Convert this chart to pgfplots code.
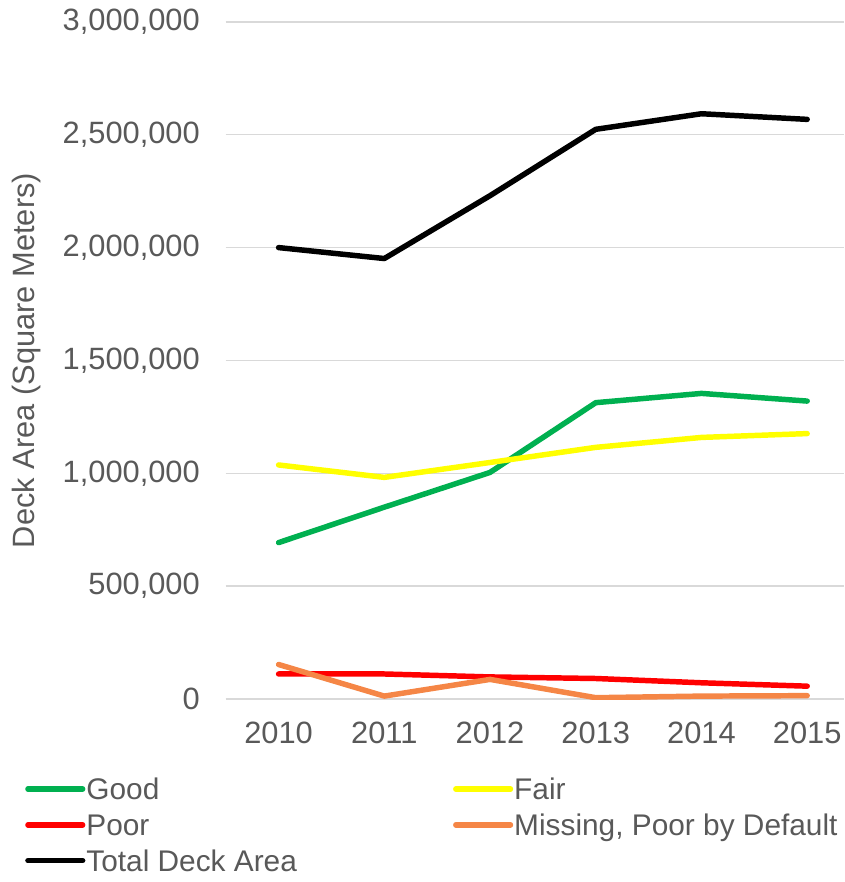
\documentclass[border=0pt]{standalone}
\usepackage{fontspec}
\setmainfont{Liberation Sans}
\usepackage{pgfplots}
\pgfplotsset{compat=1.18}
\usetikzlibrary{calc}
\definecolor{txtgray}{HTML}{595959}
\definecolor{gridgray}{HTML}{D9D9D9}
\definecolor{cgood}{HTML}{00B050}
\definecolor{cfair}{HTML}{FFFF00}
\definecolor{cpoor}{HTML}{FF0000}
\definecolor{cmiss}{HTML}{F58646}
\begin{document}
\begin{tikzpicture}
\begin{axis}[
  name=ax,
  scale only axis,
  width=311pt, height=340.5pt,
  xmin=-0.5, xmax=5.35,
  ymin=0, ymax=3000000,
  xtick={0,1,2,3,4,5},
  xticklabels={2010,2011,2012,2013,2014,2015},
  ytick={0,500000,1000000,1500000,2000000,2500000,3000000},
  scaled y ticks=false,
  /pgf/number format/fixed,
  /pgf/number format/1000 sep={,},
  /pgf/number format/assume math mode=true,
  tick style={draw=none},
  axis line style={draw=none},
  ymajorgrids,
  grid style={gridgray, line width=0.75pt},
  tick label style={font=\fontsize{15.5}{18}\selectfont, text=txtgray},
  yticklabel style={xshift=-9.5pt},
  xticklabel style={yshift=-8pt},
  ylabel={Deck Area (Square Meters)},
  ylabel style={at={(axis description cs:-0.3215,0.5)}, anchor=center, font=\fontsize{15.5}{18}\selectfont, text=txtgray},
  legend columns=2,
  legend cell align=left,
  legend image code/.code={\draw[#1] (0pt,0pt) -- (27.5pt,0pt);},
  legend style={draw=none, fill=none, at={(axis description cs:-0.3248,-0.114)}, anchor=north west,
    inner sep=0pt, row sep=5.5pt,
    font=\fontsize{15}{18}\selectfont, text=txtgray,
    nodes={inner sep=0.5pt, text height=11pt, text depth=0.5pt},
    /tikz/every even column/.append style={column sep=78pt}},
  every axis plot/.append style={line width=2.75pt, line cap=round, line join=round, mark=none},
]
\addplot[cgood] coordinates {(0,693000) (1,850000) (2,1004000) (3,1313000) (4,1354000) (5,1320000)};
\addlegendentry{Good}
\addplot[cfair] coordinates {(0,1037000) (1,982000) (2,1048000) (3,1115000) (4,1159000) (5,1176000)};
\addlegendentry{Fair}
\addplot[cpoor] coordinates {(0,111000) (1,111000) (2,98000) (3,91000) (4,72000) (5,57000)};
\addlegendentry{Poor}
\addplot[cmiss] coordinates {(0,153000) (1,13000) (2,87000) (3,6000) (4,13000) (5,15000)};
\addlegendentry{Missing, Poor by Default}
\addplot[black] coordinates {(0,2000000) (1,1951500) (2,2230000) (3,2524000) (4,2593000) (5,2568000)};
\addlegendentry{Total Deck Area}
\end{axis}
\pgfresetboundingbox
\path ($(ax.south west)+(-113.5pt,-92pt)$) rectangle ($(ax.north east)+(0pt,11pt)$);
\end{tikzpicture}
\end{document}
